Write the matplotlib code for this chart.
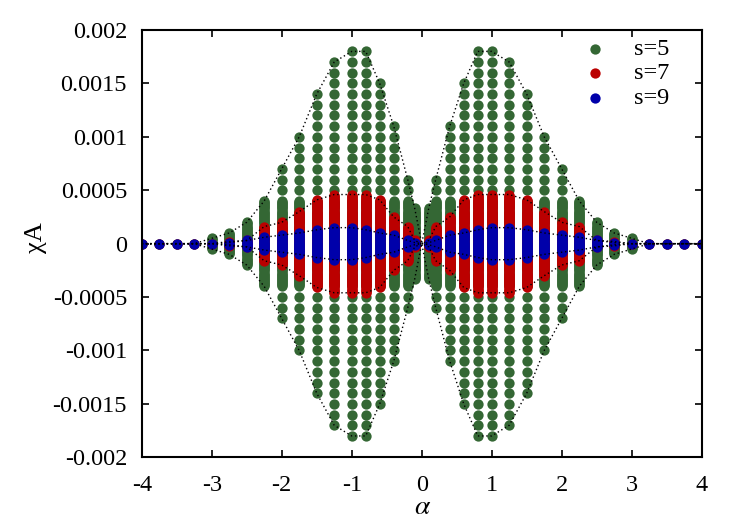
import numpy as np
import matplotlib
matplotlib.use("Agg")
import matplotlib.pyplot as plt

plt.rcParams['font.family'] = ['Liberation Serif', 'DejaVu Serif']
plt.rcParams['mathtext.fontset'] = 'stix'

# left half of the alpha grid, the right half is the mirror image
alpha_half = [-4, -3.75, -3.5, -3.25, -3, -2.75, -2.5, -2.25, -2, -1.75,
              -1.5, -1.25, -1, -0.8, -0.6, -0.4, -0.2, -0.1]

# largest |chi_A| of each column
green_max = [0, 0, 0, 0, 0.00005, 0.0001, 0.0002, 0.0004, 0.0007, 0.001,
             0.0014, 0.0017, 0.0018, 0.0018, 0.0015, 0.0011, 0.0006, 0.00033]
# the s=5 columns are packed solid up to this value, then spaced by 1e-4
green_dense = [0, 0, 0, 0, 0.00005, 0.0001, 0.0002, 0.0004, 0.0004, 0.0004,
               0.0004, 0.0004, 0.0004, 0.0004, 0.0004, 0.0004, 0.0004, 0.00033]
red_max = [0, 0, 0, 0, 0, 0.00002, 0.00003, 0.00016, 0.0002, 0.0003,
           0.00041, 0.00046, 0.00046, 0.00046, 0.00041, 0.00025, 0.00016, 0.00003]
blue_max = [0, 0, 0, 0, 0, 0.00001, 0.00003, 0.00006, 0.00008, 0.0001,
            0.00013, 0.00015, 0.00015, 0.00013, 0.0001, 0.00008, 0.00003, 0.00001]

grid_step = 0.0001
dense_step = 0.00001

c_green = '#346734'
c_red = '#bb0000'
c_blue = '#0000aa'


def mirror(v, sign=1):
    v = np.array(v, dtype=float)
    return np.concatenate([v, sign * v[::-1]])


alpha = mirror(alpha_half, -1)
gmax = mirror(green_max)
gden = mirror(green_dense)
rmax = mirror(red_max)
bmax = mirror(blue_max)


def column_points(a, m, d, step):
    ys = [np.arange(-d, d + 1e-12, dense_step)] if d > 0 else [np.array([0.0])]
    if step:
        k = int(np.floor(m / step + 1e-6))
        ys.append(np.arange(-k, k + 1) * step)
    y = np.unique(np.round(np.concatenate(ys), 8))
    return np.full(len(y), a), y


def series_points(mx, dn, step):
    xs, ys = [], []
    for a, m, d in zip(alpha, mx, dn):
        x, y = column_points(a, m, d, step)
        xs.append(x)
        ys.append(y)
    return np.concatenate(xs), np.concatenate(ys)


fig = plt.figure(figsize=(7.47, 5.23), dpi=100)
ax = fig.add_axes([0.1897, 0.1256, 0.7497, 0.817])

ms = 55
gx, gy = series_points(gmax, gden, grid_step)
rx, ry = series_points(rmax, rmax, None)
bx, by = series_points(bmax, bmax, None)
ax.scatter(gx, gy, s=ms, color=c_green, linewidths=0, zorder=2)
ax.scatter(rx, ry, s=ms, color=c_red, linewidths=0, zorder=2)
ax.scatter(bx, by, s=ms, color=c_blue, linewidths=0, zorder=2)

# dotted envelopes, they meet at alpha = 0
env_a = np.concatenate([alpha[:len(alpha_half)], [0.0], alpha[len(alpha_half):]])
for mx in (gmax, rmax, bmax):
    env = np.concatenate([mx[:len(alpha_half)], [0.0], mx[len(alpha_half):]])
    for sg in (1, -1):
        ax.plot(env_a, sg * env, color='black', lw=1.0,
                linestyle=(0, (1, 2)), zorder=3)

ax.set_xlim(-4, 4)
ax.set_ylim(-0.002, 0.002)
ax.set_xticks(np.arange(-4, 5, 1))
yt = [-0.002, -0.0015, -0.001, -0.0005, 0, 0.0005, 0.001, 0.0015, 0.002]
ax.set_yticks(yt)
ax.set_yticklabels(['-0.002', '-0.0015', '-0.001', '-0.0005', '0',
                    '0.0005', '0.001', '0.0015', '0.002'])
ax.set_xticklabels(['-4', '-3', '-2', '-1', '0', '1', '2', '3', '4'])
ax.tick_params(direction='in', length=5, width=1.2, top=True, right=True,
               labelsize=17.5, pad=10.5)
ax.tick_params(axis='x', pad=12.5)
for sp in ax.spines.values():
    sp.set_linewidth(1.5)

fig.text(423 / 747, 1 - 507 / 523, r'$\alpha$', fontsize=20,
         ha='center', va='center')
fig.text(36 / 747, 1 - 238 / 523, 'χA', fontsize=19, rotation=90,
         ha='center', va='center')

# key in the top right corner
labels = ['s=5', 's=7', 's=9']
cols = [c_green, c_red, c_blue]
ky = [0.9555, 0.8994, 0.8409]
for lab, c, y in zip(labels, cols, ky):
    ax.scatter([0.8095], [y], s=ms, color=c, linewidths=0,
               transform=ax.transAxes, zorder=4)
    ax.text(0.9423, y, lab, transform=ax.transAxes, ha='right',
            va='center', fontsize=17.5, zorder=4)

fig.savefig('out.png', dpi=100)
